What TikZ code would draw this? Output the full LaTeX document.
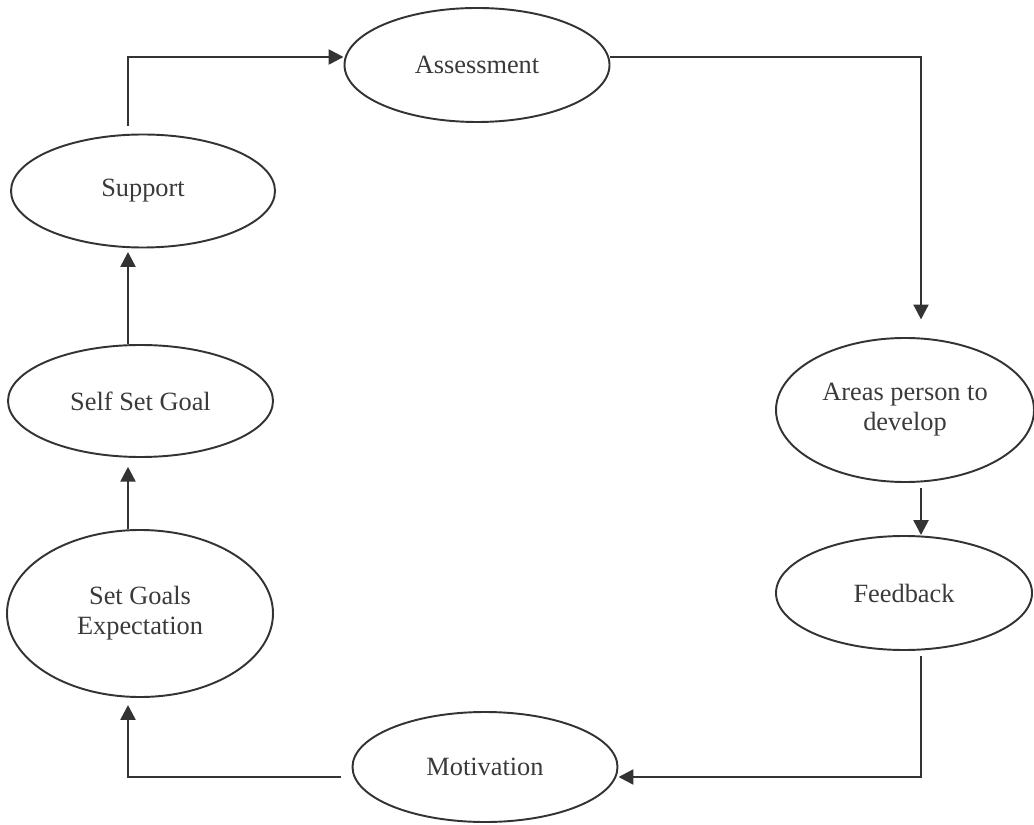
\documentclass[tikz,border=0pt]{standalone}
\usepackage{fontspec}
\setmainfont{Liberation Serif}
\definecolor{CYCink}{HTML}{333333}
\definecolor{CYCtext}{HTML}{3A3A3A}
\usetikzlibrary{shapes.geometric, arrows.meta, positioning}

\begin{document}
\begin{tikzpicture}[
      stage/.style={ellipse, draw=CYCink, line width=1.1pt, inner sep=0pt,
         align=center, text=CYCtext, font=\fontsize{15}{17}\selectfont},
      flow/.style={-{Triangle[length=8.5pt, width=8.5pt]}, draw=CYCink, line width=1.4pt}
   ]
            \useasboundingbox (0,0) rectangle (20.68,16.48);
            % Stages of the cycle
            \node[stage, minimum width=5.3cm, minimum height=2.28cm] (assess) at (9.54,15.18) {Assessment};
            \node[stage, minimum width=5.16cm, minimum height=2.88cm] (areas) at (18.1,8.28) {Areas person to\\develop};
            \node[stage, minimum width=5.12cm, minimum height=2.28cm] (feedback) at (18.08,4.62) {Feedback};
            \node[stage, minimum width=5.3cm, minimum height=2.2cm] (motiv) at (9.7,1.14) {Motivation};
            \node[stage, minimum width=5.32cm, minimum height=3.34cm] (setgoals) at (2.8,4.21) {Set Goals\\Expectation};
            \node[stage, minimum width=5.3cm, minimum height=2.24cm] (selfgoal) at (2.81,8.46) {Self Set Goal};
            \node[stage, minimum width=5.28cm, minimum height=2.26cm] (support) at (2.86,12.66) {Support};
            % Corners of the loop
            \coordinate (tl) at (2.56,15.34);
            \coordinate (tr) at (18.42,15.34);
            \coordinate (br) at (18.42,0.94);
            \coordinate (bl) at (2.56,0.94);
            % Connectors
            \draw[flow, shorten <=4pt] (support.north -| tl) -- (tl) -- (tl -| assess.west);
            \draw[flow, shorten >=10pt] (tr -| assess.east) -- (tr) -- (areas.north -| tr);
            \draw[flow, shorten <=3pt] (areas.south -| tr) -- (feedback.north -| tr);
            \draw[flow, shorten <=3pt] (feedback.south -| br) -- (br) -- (br -| motiv.east);
            \draw[flow, shorten <=6pt, shorten >=4pt] (bl -| motiv.west) -- (bl) -- (setgoals.south -| bl);
            \draw[flow, shorten >=5pt] (setgoals.north -| bl) -- (selfgoal.south -| bl);
            \draw[flow, shorten >=2pt] (selfgoal.north -| bl) -- (support.south -| bl);
         \end{tikzpicture}
\end{document}
